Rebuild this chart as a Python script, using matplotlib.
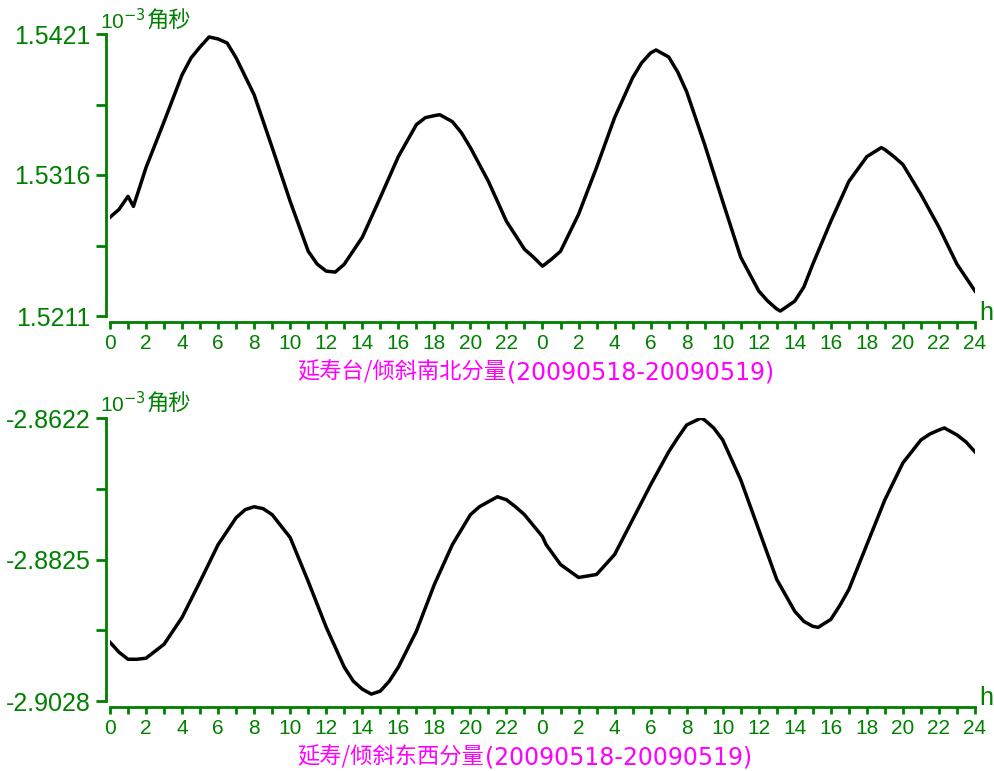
import matplotlib
matplotlib.use("Agg")
import matplotlib.pyplot as plt
from matplotlib.ticker import FixedLocator, MultipleLocator

# ---------------- data ----------------
ns_hours = [0, 0.5, 1.0, 1.3, 2, 3, 4, 4.5, 5, 5.5, 6, 6.5, 7, 8, 9, 10, 11, 11.5, 12,
            12.5, 13, 14, 15, 16, 17, 17.5, 18, 18.3, 19, 19.5, 20, 21, 22, 23, 23.5,
            24, 24.5, 25, 26, 27, 28, 29, 29.5, 30, 30.3, 31, 31.5, 32, 33, 34, 35, 36,
            36.5, 37, 37.2, 38, 38.5, 39, 40, 41, 42, 42.8, 43, 43.5, 44, 45, 46, 47, 48]
ns_values = [1.52845, 1.52904, 1.53001, 1.52926, 1.53216, 1.53557, 1.53906, 1.54032,
             1.54114, 1.54188, 1.54173, 1.54143, 1.54032, 1.53757, 1.53364, 1.52963,
             1.52592, 1.52496, 1.52444, 1.52437, 1.52496, 1.52696, 1.52993, 1.53297,
             1.53535, 1.53587, 1.53602, 1.53609, 1.53557, 1.53475, 1.53364, 1.53112,
             1.52815, 1.52607, 1.52548, 1.52481, 1.52533, 1.52592, 1.52867, 1.53216,
             1.53587, 1.53884, 1.53995, 1.54069, 1.54091, 1.54039, 1.53928, 1.53780,
             1.53386, 1.52963, 1.52548, 1.52296, 1.52221, 1.52162, 1.52147, 1.52221,
             1.52325, 1.52496, 1.52815, 1.53112, 1.53297, 1.53364, 1.53349, 1.53297,
             1.53238, 1.53015, 1.52771, 1.52496, 1.52296]

ew_hours = [0, 0.5, 1, 1.5, 2, 3, 4, 5, 6, 7, 7.5, 8, 8.5, 9, 10, 11, 12, 13, 13.5, 14,
            14.5, 15, 15.5, 16, 17, 18, 19, 20, 20.5, 21, 21.5, 22, 22.5, 23, 24, 24.2,
            25, 26, 27, 28, 29, 30, 31, 31.5, 32, 32.8, 33, 33.5, 34, 35, 36, 37, 38,
            38.5, 39, 39.3, 40, 40.5, 41, 42, 43, 44, 45, 45.5, 46, 46.3, 47, 47.5, 48]
ew_values = [-2.89438, -2.89580, -2.89681, -2.89681, -2.89666, -2.89466, -2.89080,
             -2.88565, -2.88036, -2.87650, -2.87535, -2.87493, -2.87521, -2.87607,
             -2.87936, -2.88565, -2.89223, -2.89795, -2.89995, -2.90110, -2.90181,
             -2.90138, -2.89995, -2.89795, -2.89280, -2.88608, -2.88036, -2.87607,
             -2.87493, -2.87421, -2.87350, -2.87393, -2.87493, -2.87607, -2.87922,
             -2.88036, -2.88322, -2.88508, -2.88465, -2.88179, -2.87679, -2.87178,
             -2.86706, -2.86506, -2.86320, -2.86220, -2.86249, -2.86363, -2.86535,
             -2.87107, -2.87822, -2.88537, -2.88994, -2.89137, -2.89209, -2.89223,
             -2.89109, -2.88909, -2.88680, -2.88036, -2.87393, -2.86864, -2.86535,
             -2.86449, -2.86392, -2.86363, -2.86463, -2.86563, -2.86706]

ns_yticks = [1.5211, 1.5316, 1.5421]
ew_yticks = [-2.9028, -2.8825, -2.8622]
x_tick_pos = list(range(0, 49, 2))
x_tick_labels = [str(h % 24) if h < 48 else "24" for h in x_tick_pos]

ns_title_cjk = "延寿台/倾斜南北分量"
ew_title_cjk = "延寿/倾斜东西分量"
date_range = "(20090518-20090519)"
unit_power = "10$^{-3}$"
unit_name = "角秒"

# ---------------- style ----------------
GREEN = "#008000"
MAGENTA = "#FF00FF"
CJK = ["Noto Sans CJK SC", "DejaVu Sans"]
plt.rcParams["font.family"] = ["Liberation Sans", "Noto Sans CJK SC", "DejaVu Sans"]

W, H = 994, 771
fig = plt.figure(figsize=(W / 100, H / 100), dpi=100)
renderer = fig.canvas.get_renderer()


def px_axes(left, top, right, bottom):
    return fig.add_axes([left / W, 1 - bottom / H, (right - left) / W, (bottom - top) / H])


def style_axes(ax, hours, values, yticks, title_cjk, title_y, label_y):
    ax.plot(hours, values, color="black", lw=2.5, solid_joinstyle="round")
    ax.set_xlim(0, 48)
    ax.set_ylim(yticks[0], yticks[-1])
    for s in ("top", "right"):
        ax.spines[s].set_visible(False)
    for s in ("left", "bottom"):
        ax.spines[s].set_color(GREEN)
        ax.spines[s].set_linewidth(2)
    ax.spines["bottom"].set_position(("outward", 4))
    ax.spines["left"].set_position(("outward", 3))
    ax.xaxis.set_major_locator(FixedLocator(x_tick_pos))
    ax.set_xticklabels(x_tick_labels)
    ax.xaxis.set_minor_locator(MultipleLocator(1))
    ax.set_yticks(yticks)
    ax.set_yticklabels([f"{v:.4f}" for v in yticks])
    ax.yaxis.set_minor_locator(FixedLocator([(yticks[0] + yticks[1]) / 2,
                                             (yticks[1] + yticks[2]) / 2]))
    ax.tick_params(axis="x", which="both", direction="out", length=5, width=2,
                   color=GREEN, labelcolor=GREEN, labelsize=15, pad=4)
    ax.tick_params(axis="y", which="both", direction="out", length=7, width=2,
                   color=GREEN, labelcolor=GREEN, labelsize=18, pad=4)
    ax.annotate("h", xy=(1, 0), xycoords="axes fraction", xytext=(4, -9),
                textcoords="offset pixels", color=GREEN, fontsize=18, ha="left",
                va="bottom")
    # unit label: power of ten followed by the unit name
    tp = fig.text(100 / W, 1 - label_y / H, unit_power, color=GREEN, fontsize=15,
                  ha="left", va="center")
    bp = tp.get_window_extent(renderer=renderer)
    fig.text((bp.x1 + 1) / W, 1 - label_y / H, unit_name, color=GREEN, fontsize=16,
             ha="left", va="center", family=CJK)
    # title in two parts
    t1 = fig.text(297 / W, 1 - title_y / H, title_cjk, color=MAGENTA, fontsize=16,
                  ha="left", va="center", family=CJK)
    bb = t1.get_window_extent(renderer=renderer)
    fig.text((bb.x1 + 1) / W, 1 - title_y / H, date_range, color=MAGENTA,
             fontsize=17, ha="left", va="center", family=["DejaVu Sans"])


ax1 = px_axes(110, 34, 975, 316)
style_axes(ax1, ns_hours, ns_values, ns_yticks, ns_title_cjk, 372, 21)
ax2 = px_axes(110, 418, 975, 701)
style_axes(ax2, ew_hours, ew_values, ew_yticks, ew_title_cjk, 757, 404)

fig.savefig("out.png", dpi=100, facecolor="white")
